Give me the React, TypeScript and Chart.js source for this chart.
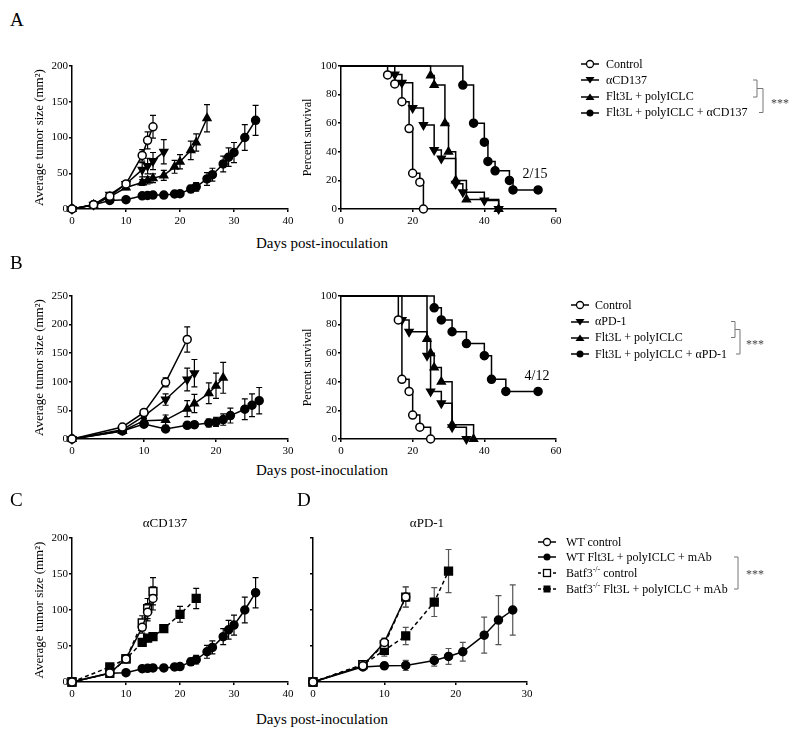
import React, { useEffect, useRef } from 'react';
import { Chart, registerables } from 'chart.js';
Chart.register(...registerables);

const FONT = "'Liberation Serif', 'Times New Roman', serif";
Chart.defaults.font.family = FONT;
Chart.defaults.font.size = 11;
Chart.defaults.color = '#000';

// ---------- Panel A: tumor growth (αCD137) ----------
const aCtrlDays = [0, 4, 7, 10, 13, 14, 15];
const aCtrlMean = [0, 6, 18, 35, 75, 96, 115];
const aCtrlSem = [0, 1, 2, 3, 8, 12, 16];
const aCd137Days = [0, 4, 7, 10, 13, 14, 15, 17];
const aCd137Mean = [0, 6, 20, 35, 55, 60, 67, 80];
const aCd137Sem = [0, 1, 2, 3, 10, 11, 12, 17];
const aFltDays = [0, 4, 7, 10, 13, 14, 15, 17, 19, 20, 22, 23, 25];
const aFltMean = [0, 6, 17, 30, 37, 40, 43, 47, 59, 66, 82, 93, 127];
const aFltSem = [0, 1, 2, 3, 4, 5, 6, 7, 9, 10, 13, 12, 19];
const aComboDays = [0, 4, 7, 10, 13, 14, 15, 17, 19, 20, 22, 23, 25, 26, 28, 29, 30, 32, 34];
const aComboMean = [0, 6, 12, 13, 18.5, 19, 19.5, 19.5, 21, 21.5, 28, 31, 42, 48, 63, 72.5, 79, 100, 124];
const aComboSem = [0, 1, 2, 2, 2, 2, 2, 2, 3, 3, 5, 6, 9, 9, 11, 13, 14, 18, 21];

// ---------- Panel A: survival ----------
const saCtrlT = [0, 13, 15, 17, 19, 20, 22, 23];
const saCtrlS = [100, 93.75, 87.5, 75, 56.25, 25, 18.75, 0];
const saCd137T = [0, 15, 17, 20, 23, 26, 28, 32, 34, 40, 44];
const saCd137S = [100, 94.1, 88.2, 70.6, 58.8, 41.2, 35.3, 17.6, 11.8, 5.9, 0];
const saFltT = [0, 25, 26, 29, 30, 32, 35, 44];
const saFltS = [100, 93.3, 86.7, 60, 40, 20, 6.7, 0];
const saComboT = [0, 34, 37, 40, 41, 43, 47, 48, 55];
const saComboS = [100, 86.7, 60, 46.7, 33.3, 26.7, 20, 13.3, 13.3];

// ---------- Panel B: tumor growth (αPD-1) ----------
const bCtrlDays = [0, 7, 10, 13, 16];
const bCtrlMean = [0, 21, 46.5, 99, 174];
const bCtrlSem = [0, 2, 4, 8, 22];
const bPd1Days = [0, 7, 10, 13, 16, 17];
const bPd1Mean = [0, 16, 40, 69, 104, 115];
const bPd1Sem = [0, 2, 4, 10, 20, 24];
const bFltDays = [0, 7, 10, 13, 16, 17, 19, 20, 21];
const bFltMean = [0, 14, 32, 33, 53, 62, 80, 93, 107];
const bFltSem = [0, 2, 4, 9, 14, 16, 18, 22, 27];
const bComboDays = [0, 7, 10, 13, 16, 17, 19, 20, 21, 22, 24, 25, 26];
const bComboMean = [0, 14, 26, 17.5, 24, 25, 28, 30, 34, 41, 52, 59, 67];
const bComboSem = [0, 2, 4, 3, 5, 5, 7, 8, 10, 13, 18, 20, 23];

// ---------- Panel B: survival ----------
const sbCtrlT = [0, 16, 17, 19, 20, 22, 25];
const sbCtrlS = [100, 83.3, 41.7, 33.3, 16.7, 8.3, 0];
const sbPd1T = [0, 17, 19, 24, 25, 28, 31, 35];
const sbPd1S = [100, 83.3, 75, 58.3, 33.3, 25, 8.3, 0];
const sbFltT = [0, 24, 25, 26, 28, 31, 37];
const sbFltS = [100, 70, 60, 50, 40, 10, 0];
const sbComboT = [0, 26, 28, 31, 35, 40, 42, 46, 55];
const sbComboS = [100, 91.7, 83.3, 75, 66.7, 58.3, 41.7, 33.3, 33.3];

// ---------- Panel C: αCD137, WT vs Batf3-/- ----------
const cWtCtrlDays = [0, 7, 10, 13, 14, 15];
const cWtCtrlMean = [0, 12.5, 32, 76, 97, 116];
const cWtCtrlSem = [0, 2, 4, 8, 12, 16];
const cWtComboDays = [0, 7, 10, 13, 14, 15, 17, 19, 20, 22, 23, 25, 26, 28, 29, 30, 32, 34];
const cWtComboMean = [0, 12, 13, 18.5, 19, 19.5, 19.5, 21, 21.5, 28, 31, 42, 48, 63, 72.5, 79, 100, 124];
const cWtComboSem = [0, 2, 2, 2, 2, 2, 2, 3, 3, 5, 6, 9, 9, 11, 13, 14, 18, 21];
const cBatCtrlDays = [0, 7, 10, 13, 14, 15];
const cBatCtrlMean = [0, 12, 32, 82, 102, 126];
const cBatCtrlSem = [0, 2, 4, 10, 14, 19];
const cBatComboDays = [0, 7, 10, 13, 14, 15, 17, 20, 23];
const cBatComboMean = [0, 21, 32, 55, 61, 63, 74, 94, 116];
const cBatComboSem = [0, 3, 4, 5, 5, 5, 5, 11, 14];

// ---------- Panel D: αPD-1, WT vs Batf3-/- ----------
const dWtCtrlDays = [0, 7, 10, 13];
const dWtCtrlMean = [0, 22.5, 55, 118];
const dWtCtrlSem = [0, 3, 6, 14];
const dWtComboDays = [0, 7, 10, 13, 17, 19, 21, 24, 26, 28];
const dWtComboMean = [0, 21, 22.5, 23, 30, 35.5, 42, 65, 86, 100];
const dWtComboSem = [0, 3, 4, 7, 8, 11, 13, 25, 34, 35];
const dBatCtrlDays = [0, 7, 10, 13];
const dBatCtrlMean = [0, 24, 52, 118];
const dBatCtrlSem = [0, 3, 6, 14];
const dBatComboDays = [0, 7, 10, 13, 17, 19];
const dBatComboMean = [0, 24, 44, 64, 111, 154];
const dBatComboSem = [0, 3, 8, 12, 20, 30];

// ---------- Legend labels ----------
const legendA = ['Control', 'αCD137', 'Flt3L + polyICLC', 'Flt3L + polyICLC + αCD137'];
const legendB = ['Control', 'αPD-1', 'Flt3L + polyICLC', 'Flt3L + polyICLC + αPD-1'];

type Kind = 'openCircle' | 'filledCircle' | 'down' | 'up' | 'openSquare' | 'filledSquare';

const errorBarPlugin = {
  id: 'errorBars',
  beforeDatasetsDraw(chart: any) {
    const ctx = chart.ctx;
    const yScale = chart.scales.y;
    chart.data.datasets.forEach((ds: any, di: number) => {
      if (!ds.errors) return;
      const meta = chart.getDatasetMeta(di);
      ctx.save();
      ctx.strokeStyle = ds.errorColor || '#000';
      ctx.lineWidth = 1.2;
      meta.data.forEach((pt: any, i: number) => {
        const e = ds.errors[i];
        if (!e) return;
        const v = ds.data[i].y;
        const x = pt.x;
        const y1 = yScale.getPixelForValue(v + e);
        const y2 = yScale.getPixelForValue(v - e);
        ctx.beginPath();
        ctx.moveTo(x, y1);
        ctx.lineTo(x, y2);
        ctx.moveTo(x - 3, y1);
        ctx.lineTo(x + 3, y1);
        ctx.moveTo(x - 3, y2);
        ctx.lineTo(x + 3, y2);
        ctx.stroke();
      });
      ctx.restore();
    });
  },
};

function markerProps(kind: Kind) {
  switch (kind) {
    case 'openCircle':
      return { pointStyle: 'circle', pointRadius: 4, pointBackgroundColor: '#fff', pointRotation: 0 };
    case 'filledCircle':
      return { pointStyle: 'circle', pointRadius: 4, pointBackgroundColor: '#000', pointRotation: 0 };
    case 'down':
      return { pointStyle: 'triangle', pointRadius: 4.5, pointBackgroundColor: '#000', pointRotation: 180 };
    case 'up':
      return { pointStyle: 'triangle', pointRadius: 4.5, pointBackgroundColor: '#000', pointRotation: 0 };
    case 'openSquare':
      return { pointStyle: 'rect', pointRadius: 5.5, pointBackgroundColor: '#fff', pointRotation: 0 };
    case 'filledSquare':
      return { pointStyle: 'rect', pointRadius: 5.5, pointBackgroundColor: '#000', pointRotation: 0 };
  }
}

function growthSeries(days: number[], mean: number[], sem: number[], kind: Kind, dashed = false, errorColor = '#000') {
  return {
    data: days.map((d, i) => ({ x: d, y: mean[i] })),
    errors: sem,
    errorColor,
    borderColor: '#000',
    borderWidth: 1.5,
    borderDash: dashed ? [4, 3] : [],
    pointBorderColor: '#000',
    pointBorderWidth: 1.5,
    tension: 0,
    clip: false,
    ...markerProps(kind),
  };
}

function survivalSeries(t: number[], s: number[], kind: Kind) {
  const m: any = markerProps(kind);
  return {
    data: t.map((d, i) => ({ x: d, y: s[i] })),
    borderColor: '#000',
    borderWidth: 1.5,
    stepped: 'before',
    pointBorderColor: '#000',
    pointBorderWidth: 1.5,
    clip: false,
    ...m,
    pointRadius: t.map((_, i) => (i === 0 ? 0 : m.pointRadius)),
  };
}

function xAxis(max: number, step: number) {
  return {
    type: 'linear',
    min: 0,
    max,
    ticks: { stepSize: step, color: '#000', font: { size: 11, family: FONT }, padding: 3, maxRotation: 0 },
    grid: { display: true, drawOnChartArea: false, drawTicks: true, tickLength: 3, color: '#000', lineWidth: 1.5 },
    border: { display: true, color: '#000', width: 1.5 },
    afterFit: (s: any) => {
      s.height = 20;
    },
  };
}

function yAxis(max: number, step: number, width: number, title: string | null, titleSize: number, titlePad: number, showLabels = true) {
  const ticks: any = { stepSize: step, color: '#000', font: { size: 11, family: FONT }, padding: 1 };
  if (!showLabels) ticks.callback = () => '';
  return {
    type: 'linear',
    min: 0,
    max,
    ticks,
    grid: { display: true, drawOnChartArea: false, drawTicks: true, tickLength: 3, color: '#000', lineWidth: 1.5 },
    border: { display: true, color: '#000', width: 1.5 },
    title: title
      ? { display: true, text: title, color: '#000', font: { size: titleSize, family: FONT }, padding: { top: titlePad, bottom: 0 } }
      : { display: false },
    afterFit: (s: any) => {
      s.width = width;
    },
  };
}

function makeConfig(datasets: any[], x: any, y: any) {
  return {
    type: 'line',
    data: { datasets },
    options: {
      responsive: false,
      animation: false,
      layout: { padding: { top: 10, right: 12, left: 0, bottom: 0 } },
      plugins: { legend: { display: false }, tooltip: { enabled: false }, title: { display: false } },
      scales: { x, y },
    },
    plugins: [errorBarPlugin],
  };
}

function Panel({ left, top, width, height, config }: any) {
  const ref = useRef<HTMLCanvasElement>(null);
  useEffect(() => {
    const chart = new Chart(ref.current as HTMLCanvasElement, config as any);
    return () => chart.destroy();
  }, []);
  return (
    <canvas
      ref={ref}
      width={width}
      height={height}
      style={{ position: 'absolute', left, top, width, height }}
    />
  );
}

function MarkerGlyph({ kind, dashed }: { kind: Kind; dashed?: boolean }) {
  let shape: any = null;
  if (kind === 'openCircle') shape = <circle cx={9} cy={5} r={3.5} fill="#fff" stroke="#000" strokeWidth={1.3} />;
  if (kind === 'filledCircle') shape = <circle cx={9} cy={5} r={3.5} fill="#000" />;
  if (kind === 'down') shape = <polygon points="4.5,2 13.5,2 9,8.5" fill="#000" />;
  if (kind === 'up') shape = <polygon points="9,1.5 13.5,8 4.5,8" fill="#000" />;
  if (kind === 'openSquare') shape = <rect x={5.5} y={1.5} width={7} height={7} fill="#fff" stroke="#000" strokeWidth={1.3} />;
  if (kind === 'filledSquare') shape = <rect x={5.5} y={1.5} width={7} height={7} fill="#000" />;
  return (
    <svg width={18} height={10} style={{ display: 'block' }}>
      <line x1={0} y1={5} x2={18} y2={5} stroke="#000" strokeWidth={1.5} strokeDasharray={dashed ? '3,2' : undefined} />
      {shape}
    </svg>
  );
}

function Legend({ markerX, textX, rows, labels, kinds, dashed }: any) {
  return (
    <>
      {labels.map((lab: any, i: number) => (
        <React.Fragment key={i}>
          <div style={{ position: 'absolute', left: markerX - 9, top: rows[i] - 5 }}>
            <MarkerGlyph kind={kinds[i]} dashed={dashed ? dashed[i] : false} />
          </div>
          <div
            style={{
              position: 'absolute',
              left: textX,
              top: rows[i] - 7.5,
              fontSize: 12,
              lineHeight: '15px',
              whiteSpace: 'nowrap',
              fontFamily: FONT,
            }}
          >
            {lab}
          </div>
        </React.Fragment>
      ))}
    </>
  );
}

function Txt({ x, y, size, children, center, color }: any) {
  return (
    <div
      style={{
        position: 'absolute',
        left: center ? x - 150 : x,
        width: center ? 300 : undefined,
        textAlign: center ? 'center' : 'left',
        top: y - size * 0.6,
        fontSize: size,
        lineHeight: `${size * 1.2}px`,
        fontFamily: FONT,
        whiteSpace: 'nowrap',
        color: color || '#000',
      }}
    >
      {children}
    </div>
  );
}

export default function App() {
  const cfgATumor = makeConfig(
    [
      growthSeries(aCtrlDays, aCtrlMean, aCtrlSem, 'openCircle'),
      growthSeries(aCd137Days, aCd137Mean, aCd137Sem, 'down'),
      growthSeries(aFltDays, aFltMean, aFltSem, 'up'),
      growthSeries(aComboDays, aComboMean, aComboSem, 'filledCircle'),
    ],
    xAxis(40, 10),
    yAxis(200, 50, 72, 'Average tumor size (mm²)', 13, 32)
  );
  const cfgASurv = makeConfig(
    [
      survivalSeries(saCtrlT, saCtrlS, 'openCircle'),
      survivalSeries(saCd137T, saCd137S, 'down'),
      survivalSeries(saFltT, saFltS, 'up'),
      survivalSeries(saComboT, saComboS, 'filledCircle'),
    ],
    xAxis(60, 20),
    yAxis(100, 20, 49, 'Percent survival', 12, 8.8)
  );
  const cfgBTumor = makeConfig(
    [
      growthSeries(bCtrlDays, bCtrlMean, bCtrlSem, 'openCircle'),
      growthSeries(bPd1Days, bPd1Mean, bPd1Sem, 'down'),
      growthSeries(bFltDays, bFltMean, bFltSem, 'up'),
      growthSeries(bComboDays, bComboMean, bComboSem, 'filledCircle'),
    ],
    xAxis(30, 10),
    yAxis(250, 50, 72, 'Average tumor size (mm²)', 13, 32)
  );
  const cfgBSurv = makeConfig(
    [
      survivalSeries(sbCtrlT, sbCtrlS, 'openCircle'),
      survivalSeries(sbPd1T, sbPd1S, 'down'),
      survivalSeries(sbFltT, sbFltS, 'up'),
      survivalSeries(sbComboT, sbComboS, 'filledCircle'),
    ],
    xAxis(60, 20),
    yAxis(100, 20, 49, 'Percent survival', 12, 8.8)
  );
  const cfgC = makeConfig(
    [
      growthSeries(cWtCtrlDays, cWtCtrlMean, cWtCtrlSem, 'openCircle'),
      growthSeries(cWtComboDays, cWtComboMean, cWtComboSem, 'filledCircle'),
      growthSeries(cBatCtrlDays, cBatCtrlMean, cBatCtrlSem, 'openSquare', true),
      growthSeries(cBatComboDays, cBatComboMean, cBatComboSem, 'filledSquare', true),
    ],
    xAxis(40, 10),
    yAxis(200, 50, 72, 'Average tumor size (mm²)', 13, 32)
  );
  const cfgD = makeConfig(
    [
      growthSeries(dWtCtrlDays, dWtCtrlMean, dWtCtrlSem, 'openCircle', false, '#555'),
      growthSeries(dWtComboDays, dWtComboMean, dWtComboSem, 'filledCircle', false, '#555'),
      growthSeries(dBatCtrlDays, dBatCtrlMean, dBatCtrlSem, 'openSquare', true, '#555'),
      growthSeries(dBatComboDays, dBatComboMean, dBatComboSem, 'filledSquare', true, '#555'),
    ],
    xAxis(30, 10),
    yAxis(200, 50, 21, null, 13, 0, false)
  );

  const kindsAB: Kind[] = ['openCircle', 'down', 'up', 'filledCircle'];
  const kindsCD: Kind[] = ['openCircle', 'filledCircle', 'openSquare', 'filledSquare'];
  const sup = { fontSize: 8, verticalAlign: 'super', lineHeight: 0 } as any;
  const labelsCD = [
    'WT control',
    'WT Flt3L + polyICLC + mAb',
    <span>Batf3<span style={sup}>-/-</span> control</span>,
    <span>Batf3<span style={sup}>-/-</span> Flt3L + polyICLC + mAb</span>,
  ];
  const br = '#777';

  return (
    <div style={{ position: 'absolute', left: 0, top: 0, width: 800, height: 739, background: '#fff', fontFamily: FONT }}>
      <Panel left={0} top={56} width={300} height={173} config={cfgATumor} />
      <Panel left={292} top={56} width={276} height={173} config={cfgASurv} />
      <Panel left={0} top={286} width={300} height={173} config={cfgBTumor} />
      <Panel left={292} top={286} width={276} height={173} config={cfgBSurv} />
      <Panel left={0} top={528} width={300} height={174} config={cfgC} />
      <Panel left={292} top={528} width={247} height={174} config={cfgD} />

      <Txt x={10} y={20} size={19}>A</Txt>
      <Txt x={10} y={263} size={19}>B</Txt>
      <Txt x={10} y={500} size={19}>C</Txt>
      <Txt x={297} y={500} size={19}>D</Txt>

      <Txt x={322} y={243} size={15} center>Days post-inoculation</Txt>
      <Txt x={322} y={470} size={15} center>Days post-inoculation</Txt>
      <Txt x={322} y={719} size={15} center>Days post-inoculation</Txt>

      <Txt x={165} y={523} size={13} center>αCD137</Txt>
      <Txt x={427} y={523} size={13} center>αPD-1</Txt>

      <Txt x={535} y={174} size={14} center>2/15</Txt>
      <Txt x={537} y={376} size={14} center>4/12</Txt>

      <Legend markerX={589.5} textX={606} rows={[64, 80, 96.5, 112.5]} labels={legendA} kinds={kindsAB} />
      <Legend markerX={580} textX={595} rows={[305, 321.5, 337.5, 354]} labels={legendB} kinds={kindsAB} />
      <Legend
        markerX={547}
        textX={566}
        rows={[542, 557, 573, 589]}
        labels={labelsCD}
        kinds={kindsCD}
        dashed={[false, false, true, true]}
      />

      <svg width={800} height={739} style={{ position: 'absolute', left: 0, top: 0, pointerEvents: 'none' }}>
        {/* A brackets */}
        <polyline points="753,80 757,80 757,97 753,97" fill="none" stroke={br} strokeWidth={1} />
        <polyline points="757,88.5 763,88.5 763,112.5 759,112.5" fill="none" stroke={br} strokeWidth={1} />
        {/* B brackets */}
        <polyline points="731,321.5 735,321.5 735,337.5 731,337.5" fill="none" stroke={br} strokeWidth={1} />
        <polyline points="735,329.5 740,329.5 740,354 736,354" fill="none" stroke={br} strokeWidth={1} />
        {/* C/D bracket */}
        <polyline points="734,557 738,557 738,589 734,589" fill="none" stroke={br} strokeWidth={1} />
      </svg>
      <Txt x={771} y={103} size={12} color="#444">***</Txt>
      <Txt x={746} y={344} size={12} color="#444">***</Txt>
      <Txt x={746} y={574} size={12} color="#444">***</Txt>
    </div>
  );
}
